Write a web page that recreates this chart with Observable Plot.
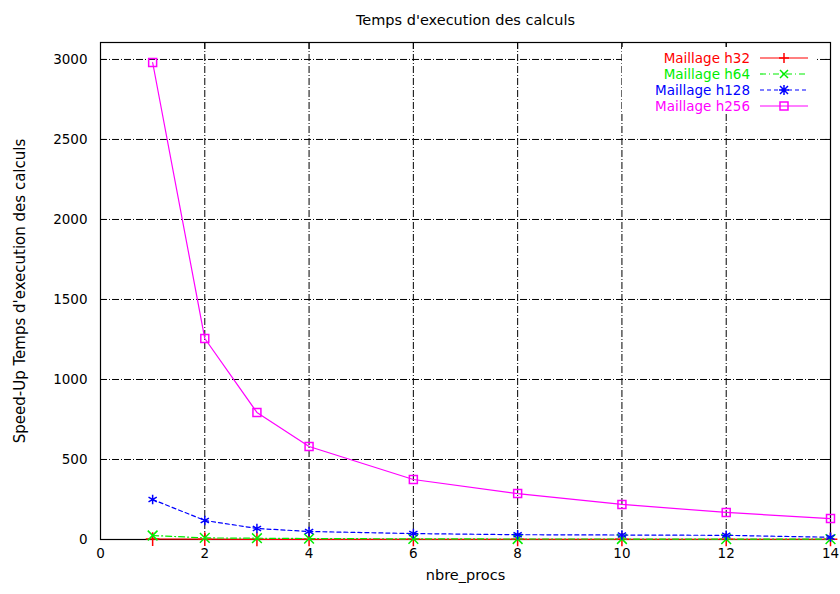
<!DOCTYPE html>
<html><head><meta charset="utf-8">
<script src="https://cdn.jsdelivr.net/npm/d3@7"></script>
<script src="https://cdn.jsdelivr.net/npm/@observablehq/plot@0.6"></script>
<style>body{margin:0;background:#fff}#c{position:relative;width:840px;height:594px}</style>
</head><body><div id="c"></div>
<script>
const procs = [1, 2, 3, 4, 6, 8, 10, 12, 14];
const h32 = [3, 2, 1, 1, 1, 1, 1, 1, 1];
const h64 = [25, 10, 8, 6, 4, 3, 3, 2, 2];
const h128 = [250, 119, 69, 50, 37, 30, 28, 26, 14];
const h256 = [2981, 1256, 794, 581, 375, 287, 219, 169, 131];
const seriesNames = ["Maillage h32", "Maillage h64", "Maillage h128", "Maillage h256"];
const seriesValues = [h32, h64, h128, h256];
const xTicks = [0, 2, 4, 6, 8, 10, 12, 14];
const yTicks = [0, 500, 1000, 1500, 2000, 2500, 3000];
const titleText = "Temps d'execution des calculs";
const xLabel = "nbre_procs";
const yLabel = "Speed-Up Temps d'execution des calculs";

const colors = ["#ff0000", "#00ee00", "#0000ff", "#ff00ff"];
const dashes = [null, "6,3,1,3", "4,3", null];
const symbols = ["plus", "times", "asterisk", "square"];

const rows = [];
seriesNames.forEach((s, i) => procs.forEach((p, j) => rows.push({s, p, v: seriesValues[i][j]})));

const font = "DejaVu Sans, Liberation Sans, Arial, sans-serif";
const marks = [
  Plot.gridX(xTicks.slice(1, -1), {stroke: "#000", strokeOpacity: 1, strokeDasharray: "7,2,1,2"}),
  Plot.gridY(yTicks.slice(1), {stroke: "#000", strokeOpacity: 1, strokeDasharray: "7,2,1,2"}),
  Plot.axisX(xTicks, {anchor: "bottom", tickSize: -6, tickPadding: 15, fontSize: 13.5, label: null, tickFormat: d3.format("d")}),
  Plot.axisX(xTicks, {anchor: "top", tickSize: -6, tickFormat: () => "", label: null}),
  Plot.axisY(yTicks, {anchor: "left", tickSize: -6, tickPadding: 19, fontSize: 13.5, label: null, tickFormat: d3.format("d")}),
  Plot.axisY(yTicks, {anchor: "right", tickSize: -6, tickFormat: () => "", label: null}),
  Plot.frame({stroke: "#000", strokeWidth: 1.2})
];
seriesNames.forEach((s, i) => {
  const d = rows.filter(r => r.s === s);
  marks.push(Plot.line(d, {x: "p", y: "v", stroke: colors[i], strokeWidth: 1.2, strokeDasharray: dashes[i]}));
  marks.push(Plot.dot(d, {x: "p", y: "v", stroke: colors[i], fill: "none", symbol: symbols[i], r: 4.5, strokeWidth: 1.5}));
});
marks.push(Plot.text([titleText], {frameAnchor: "top", dy: -28, fontSize: 14.5, fill: "#000"}));
marks.push(Plot.text([xLabel], {frameAnchor: "bottom", dy: 40, fontSize: 14.5, fill: "#000"}));
marks.push(Plot.text([yLabel], {frameAnchor: "left", dx: -80, rotate: -90, textAnchor: "middle", fontSize: 15, fill: "#000"}));

const chart = Plot.plot({
  width: 840, height: 594,
  marginLeft: 100, marginRight: 10, marginTop: 42, marginBottom: 55,
  style: {fontFamily: font, fontSize: "13px", background: "#fff", color: "#000"},
  x: {domain: [0, 14]},
  y: {domain: [0, 3106]},
  marks
});
document.getElementById("c").appendChild(chart);

// legend (top-right inside frame)
const svg = d3.select(chart);
const g = svg.append("g");
g.append("rect").attr("x", 622).attr("y", 47).attr("width", 195).attr("height", 67).attr("fill", "#fff");
seriesNames.forEach((s, i) => {
  const y = 58 + i * 16;
  g.append("text").attr("x", 750).attr("y", y).attr("dy", "0.35em").attr("text-anchor", "end")
    .attr("fill", colors[i]).attr("font-size", 13.5).attr("font-family", font).text(s);
  g.append("line").attr("x1", 760).attr("x2", 808).attr("y1", y).attr("y2", y)
    .attr("stroke", colors[i]).attr("stroke-width", 1.2).attr("stroke-dasharray", dashes[i]);
  const path = i === 0 ? "M-5,0H5M0,-5V5" :
               i === 1 ? "M-4,-4L4,4M-4,4L4,-4" :
               i === 2 ? "M-5,0H5M0,-5V5M-4,-4L4,4M-4,4L4,-4" : "M-4,-4H4V4H-4Z";
  g.append("path").attr("transform", `translate(784,${y})`).attr("d", path)
    .attr("stroke", colors[i]).attr("fill", "none").attr("stroke-width", 1.5);
});
</script>
</body></html>
